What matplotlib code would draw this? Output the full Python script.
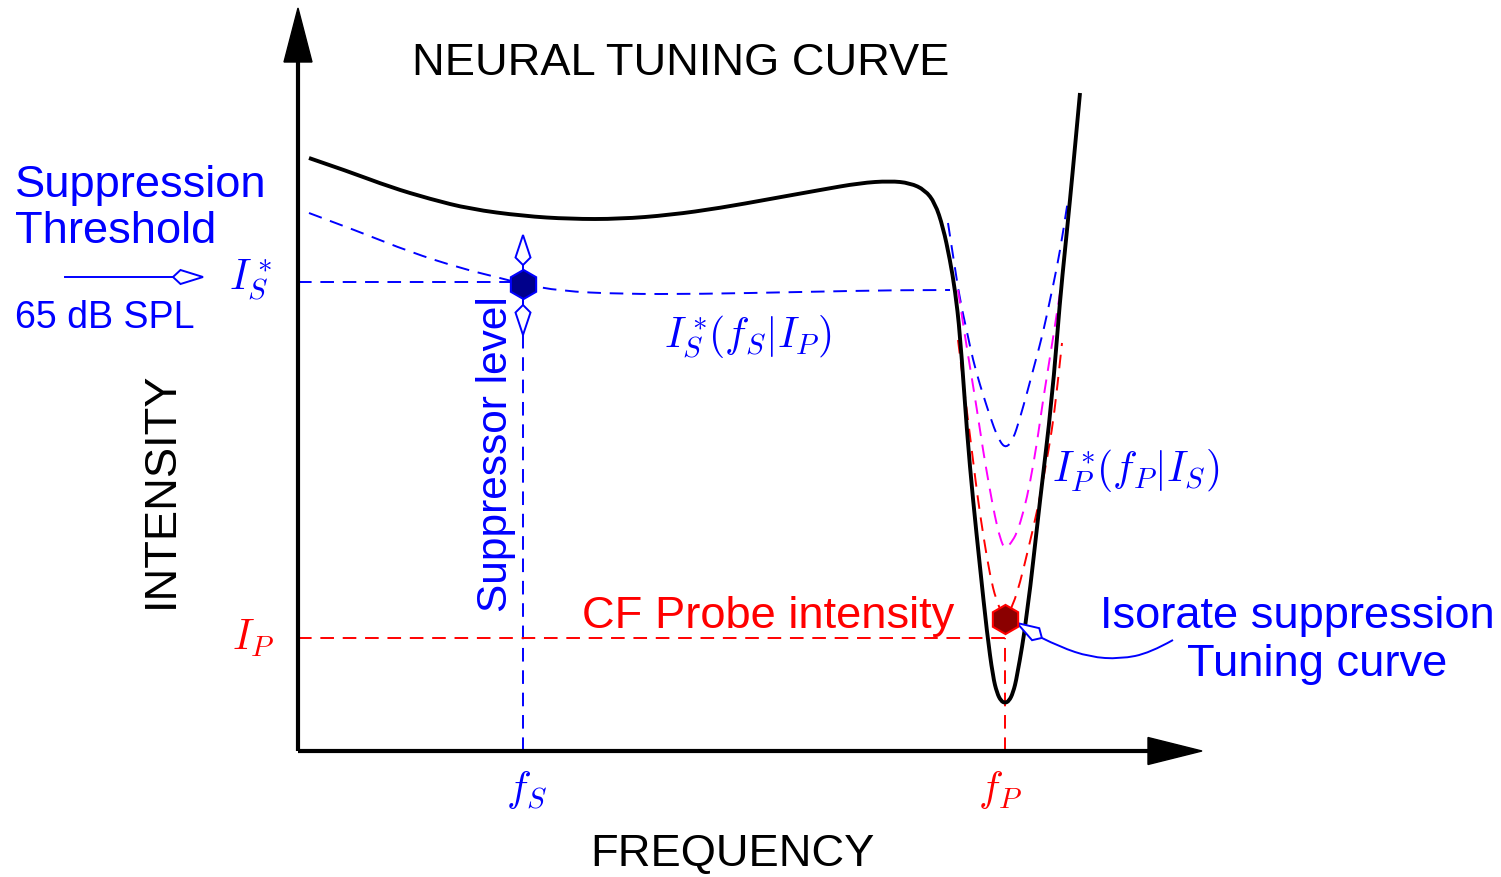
import numpy as np
import matplotlib
matplotlib.use("Agg")
import matplotlib.pyplot as plt
from matplotlib.path import Path
from matplotlib.patches import PathPatch, Polygon

plt.rcParams['font.family'] = ['Liberation Sans', 'DejaVu Sans']
plt.rcParams['mathtext.fontset'] = 'cm'

# Schematic units: frequency to the right of the origin, intensity above it
f_S = 225
f_P = 707
I_S_star = 469
I_P = 113
probe_point = (707, 132)

# Neural tuning curve (threshold vs frequency)
tc_freq = [11, 52, 92, 132, 172, 225, 272, 322, 372, 422, 472, 522, 562, 592, 612,
           627, 637, 645, 652, 657, 662, 669, 675, 682, 689, 695, 699, 703, 707,
           711, 715, 719, 729, 742, 754, 762, 767, 772, 777, 782]
tc_level = [593, 579, 564, 552, 542, 535, 532, 532, 536, 543, 552, 561, 568, 570, 568,
            561, 548, 524, 491, 461, 418, 318, 251, 184, 118, 74, 58, 50, 48,
            50, 58, 74, 134, 251, 351, 451, 501, 551, 604, 658]

# Suppression threshold I_S*(f_S | I_P)
sup_freq = [11, 62, 112, 162, 202, 225, 262, 322, 402, 502, 602, 652]
sup_level = [538, 519, 499, 483, 473, 467, 460, 457, 457, 459, 461, 461]

# Isorate suppression tuning curves I_P*(f_P | I_S) for three suppressor levels
iso_blue_freq = [650, 656, 662, 669, 675, 682, 689, 696, 702, 708, 715, 722, 729,
                 737, 745, 752, 759, 765, 770]
iso_blue_level = [528, 489, 451, 419, 391, 366, 344, 323, 309, 303, 311, 333, 358,
                  388, 418, 451, 484, 518, 551]
iso_mag_freq = [660, 666, 672, 679, 685, 691, 697, 702, 707, 713, 719, 726, 732,
                739, 745, 754, 762]
iso_mag_level = [461, 421, 384, 341, 301, 266, 234, 213, 201, 208, 218, 241, 268,
                 308, 351, 406, 458]
iso_red_freq = [660, 665, 670, 675, 680, 686, 692, 698, 707, 715, 722, 730, 739,
                747, 754, 759, 764]
iso_red_level = [411, 371, 331, 291, 251, 211, 176, 151, 131, 146, 168, 201, 239,
                 281, 321, 361, 408]

# Leader from the "Isorate suppression" label to the probe point
leader_x = [875, 852, 822, 792, 762, 744]
leader_y = [111, 98, 92, 94, 104, 113]

DASH = (0, (7, 4.5))
FS = 32.6


def spline_path(xs, ys):
    # quadratic B-spline through the control polygon
    pts = list(zip(xs, ys))
    verts = [pts[0]]
    codes = [Path.MOVETO]
    for i in range(1, len(pts) - 1):
        if i == len(pts) - 2:
            end = pts[-1]
        else:
            end = ((pts[i][0] + pts[i + 1][0]) / 2, (pts[i][1] + pts[i + 1][1]) / 2)
        verts += [pts[i], end]
        codes += [Path.CURVE3, Path.CURVE3]
    return Path(verts, codes)


def draw_curve(ax, xs, ys, color, lw, ls='-'):
    ax.add_patch(PathPatch(spline_path(xs, ys), fill=False, edgecolor=color,
                           lw=lw, linestyle=ls, capstyle='butt', zorder=3))


def diamond_head(ax, tail, tip, color, length=30, half_w=7.5):
    tail = np.array(tail, float)
    tip = np.array(tip, float)
    d = (tip - tail) / np.hypot(*(tip - tail))
    n = np.array([-d[1], d[0]])
    back = tip - d * length
    wide = tip - d * length * 0.75
    ax.add_patch(Polygon([tip, wide + n * half_w, back, wide - n * half_w],
                         closed=True, facecolor='white', edgecolor=color,
                         lw=1.4, zorder=6))
    return back


fig = plt.figure(figsize=(15.01, 8.77), dpi=100)
ax = fig.add_axes([0, 0, 1, 1])
ax.set_xlim(-298, 1203)
ax.set_ylim(-126, 751)
ax.axis('off')

# axes with solid arrow heads
ax.plot([0, 0], [0, 692], color='black', lw=3, solid_capstyle='butt', zorder=4)
ax.plot([0, 852], [0, 0], color='black', lw=3, solid_capstyle='butt', zorder=4)
ax.add_patch(Polygon([(0, 743), (-14, 689), (14, 689)], closed=True,
                     facecolor='black', edgecolor='black', zorder=4))
ax.add_patch(Polygon([(904, 0), (850, 13.5), (850, -13.5)], closed=True,
                     facecolor='black', edgecolor='black', zorder=4))

# guide lines for suppressor and probe
ax.plot([0, f_S], [I_S_star, I_S_star], color='blue', lw=1.4, ls=DASH, zorder=2)
ax.plot([f_S, f_S], [0, I_S_star], color='blue', lw=1.4, ls=DASH, zorder=2)
ax.plot([0, f_P], [I_P, I_P], color='red', lw=1.4, ls=DASH, zorder=2)
ax.plot([f_P, f_P], [0, I_P], color='red', lw=1.4, ls=DASH, zorder=2)

# suppression threshold and isorate curves
draw_curve(ax, sup_freq, sup_level, 'blue', 1.4, DASH)
draw_curve(ax, iso_blue_freq, iso_blue_level, 'blue', 1.4, DASH)
draw_curve(ax, iso_mag_freq, iso_mag_level, 'magenta', 1.4, DASH)
draw_curve(ax, iso_red_freq, iso_red_level, 'red', 1.4, DASH)

# neural tuning curve
draw_curve(ax, tc_freq, tc_level, 'black', 2.8)

# suppressor level double arrow
top_back = diamond_head(ax, (f_S, 467), (f_S, 516), 'blue')
bot_back = diamond_head(ax, (f_S, 467), (f_S, 416), 'blue')
ax.plot([f_S, f_S], [bot_back[1], top_back[1]], color='blue', lw=1.4, zorder=5)

# markers
ax.plot(f_S, 467, marker='h', ms=21, mfc='#00008b', mec='blue', mew=1.5, zorder=7)
ax.plot(*probe_point, marker='h', ms=21, mfc='#8b0000', mec='red', mew=1.5, zorder=7)

# 65 dB SPL pointer
back = diamond_head(ax, (-233, 474), (-95, 474), 'blue', length=30, half_w=7)
ax.plot([-233, back[0]], [474, 474], color='blue', lw=1.4, zorder=5)

# leader to the probe point
draw_curve(ax, leader_x, leader_y, 'blue', 1.4)
diamond_head(ax, (leader_x[-1], leader_y[-1]), (719, 128), 'blue', length=29, half_w=7)

# text
ax.text(114, 676, 'NEURAL TUNING CURVE', fontsize=FS, ha='left', va='baseline')
ax.text(-137, 261, 'INTENSITY', fontsize=FS, rotation=90, ha='center', va='center')
ax.text(434, -115, 'FREQUENCY', fontsize=FS, ha='center', va='baseline')

ax.text(-283, 554, 'Suppression', fontsize=FS, color='blue', va='baseline')
ax.text(-283, 508, 'Threshold', fontsize=FS, color='blue', va='baseline')
ax.text(-283, 423, '65 dB SPL', fontsize=27, color='blue', va='baseline')

ax.text(198, 297, 'Suppressor level', fontsize=30.5, color='blue', rotation=90,
        ha='center', va='center')
ax.text(284, 123, 'CF Probe intensity', fontsize=FS, color='red', va='baseline')
ax.text(802, 123, 'Isorate suppression', fontsize=FS, color='blue', va='baseline')
ax.text(889, 75, 'Tuning curve', fontsize=FS, color='blue', va='baseline')

ax.text(-47, 461, r'$I_S^*$', fontsize=30, color='blue', ha='center', va='baseline')
ax.text(-45, 101, r'$I_P$', fontsize=30, color='red', ha='center', va='baseline')
ax.text(229, -39, r'$f_S$', fontsize=30, color='blue', ha='center', va='center')
ax.text(702, -39, r'$f_P$', fontsize=30, color='red', ha='center', va='center')
ax.text(450, 414, r'$I_S^*\!(f_S|I_P)$', fontsize=30, color='blue', ha='center', va='center')
ax.text(838, 281, r'$I_P^*\!(f_P|I_S)$', fontsize=30, color='blue', ha='center', va='center')

plt.savefig('out.png', dpi=100)
